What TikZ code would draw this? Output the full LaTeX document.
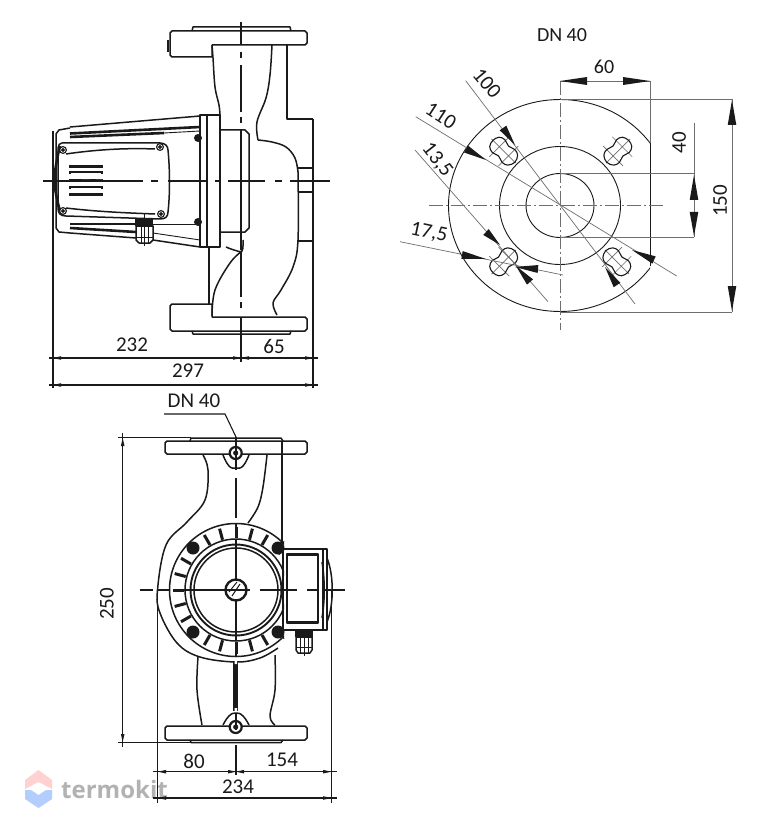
\documentclass[tikz,border=0pt]{standalone}
\usepackage{fontspec}
\setmainfont{Carlito}
\newfontfamily\wmfont{Open Sans}
\usetikzlibrary{calc}
\definecolor{ink}{HTML}{1A1A1A}
\definecolor{thin}{HTML}{6E6E6E}
\tikzset{
  x=1pt,y=-1pt,
  dimtext/.style={font=\fontsize{21}{21}\selectfont,text=ink,inner sep=0pt},
  main/.style={draw=ink,line width=1.5pt,line join=round},
  heavy/.style={draw=ink,line width=2.6pt},
  fine/.style={draw=ink,line width=0.9pt},
  hair/.style={draw=thin,line width=0.7pt},
  dashdot/.style={draw=thin,line width=0.7pt,dash pattern=on 14pt off 3pt on 2pt off 3pt},
  dimline/.style={draw=ink,line width=1.1pt},
  centre/.style={draw=ink,line width=1.6pt},
}
\newcommand\wdg[3]{\fill[ink] ($(#1)!#3!90:(#2)$) -- (#2) -- ($(#1)!#3!-90:(#2)$) -- cycle;}
\newcommand\smalltips[2]{\wdg{#1}{#2}{1.8pt}}
\begin{document}
\begin{tikzpicture}
\useasboundingbox (0,0) rectangle (776,834);
\fill[white] (0,0) rectangle (776,834);
% ---------- watermark ----------
\fill[pink!55!white!95!red] (25,780) -- (38.5,770) -- (52,780) -- (52,789) -- (38.5,782) -- (25,789) -- cycle;
\fill[blue!22!white!90!cyan] (25,790) -- (31,790) -- (38.5,795) -- (46,790) -- (52,790) -- (52,799) -- (38.5,808) -- (25,799) -- cycle;
\node[inner sep=0pt,anchor=west,text=black!30,font=\wmfont\bfseries\fontsize{24}{24}\selectfont] (wm) at (61,789) {termokit};

% ---------- side view: flanges ----------
\draw[main] (192,31) -- (193,27) -- (290,27) -- (291,31);
\draw[main] (172,31) -- (305,31) -- (307,33) -- (307,43) -- (305,45) -- (212,45) -- (212,57) -- (172,57) -- (170,55) -- (170,33) -- cycle;
\draw[heavy] (168,40) -- (168,52);
\draw[main] (192,331) -- (193,334) -- (290,334) -- (291,331);
\draw[main] (172,331) -- (305,331) -- (307,329) -- (307,319) -- (305,317) -- (212,317) -- (212,304) -- (172,304) -- (170,306) -- (170,329) -- cycle;
% neck and body
\draw[main] plot[smooth,tension=0.6] coordinates {(212,45)(213,58)(215,87)(219,105)(220,115)};
\draw[main] plot[smooth,tension=0.6] coordinates {(272,45)(270,75)(266,98)(257,122)(258,140)};
\draw[main] plot[smooth,tension=0.6] coordinates {(258,140)(272,142)(286,147)(295,158)(298,172)};
\draw[main] plot[smooth,tension=0.6] coordinates {(298,172)(298,240)(293,267)(281,290)(273,303)(277,315)};
\draw[main] (287,45) -- (287,119) -- (313,119);
\draw[main] (298,168) -- (313,168) (298,192) -- (313,192) (298,241) -- (313,241);
\draw[main] (209,247) -- (209,304);
\draw[main] plot[smooth,tension=0.6] coordinates {(212,316)(215,290)(230,263)(242,251)};
\draw[main] plot[smooth,tension=0.6] coordinates {(226,247)(234,250)(242,251)(243,240)};
% motor flange and housing
\draw[main] (200,115) rectangle (220,247);
\draw[main] (207,115) -- (207,247);
\draw[main] (220,130) -- (245,130) -- (249,134) -- (249,228) -- (245,232) -- (220,232);
% motor fins
\draw[main] (70,127) -- (200,116);
\draw[heavy] (70,133.5) -- (200,127);
\draw[heavy] (70,137) -- (164,133);
\draw[fine] (164,133) -- (200,131);
\draw[heavy] (70,224) -- (136,224);
\draw[fine] (136,224) -- (200,224);
\draw[heavy] (70,228) -- (136,232);
\draw[fine] (153,233) -- (200,240);
\draw[main] (70,233) -- (136,238) (153,240) -- (200,247);
\draw[main] (70,128) -- (59,130) -- (56,134) -- (56,228) -- (59,232) -- (70,233);
\draw[heavy] plot[smooth,tension=0.7] coordinates {(60,146)(54.5,180)(60,211)};
% terminal box
\draw[main] (62,143) -- (160,143) .. controls (165,143) and (168,146) .. (168,150) .. controls (170,170) and (170,195) .. (168,212) .. controls (168,217) and (165,219) .. (160,219) -- (66,216) .. controls (60,216) and (58,213) .. (58,208) -- (58,148) .. controls (58,145) and (60,143) .. (62,143);
\draw[main] (66,154) .. controls (100,149) and (130,148) .. (155,149);
\draw[main] (66,208) .. controls (100,212) and (130,213) .. (155,214);
\foreach \p/\q in {63/150,160/147,63/211,161/214,198/138,198/222}{\fill[ink] (\p,\q) circle (4);}
\foreach \p/\q in {63/150,160/147,63/211,161/214}{\draw[white,line width=.6pt] (\p,\q) circle (2.3);}
\foreach \q in {167,181,195}{\draw[ink,line width=3pt] (69,\q) -- (103,\q);}
\foreach \q in {173,188}{\draw[ink,line width=3pt] (69,\q) -- (103,\q);\draw[white,line width=.8pt] (71,\q) -- (101,\q);}
\fill[white] (82,180) rectangle (90,182) (96,180) rectangle (102,182);
% cable gland side
\fill[ink] (135,218) rectangle (153,226);
\draw[main,fill=white] (136,226) -- (153,226) -- (153,240) -- (150,243) -- (139,243) -- (136,240) -- cycle;
\draw[fine] (141,226) -- (141,243) (148,226) -- (148,243) (136,237) -- (153,237);
\draw[fine] (144,213) -- (144,246);
% centre lines of side view
\foreach \a/\b in {43/143,151/158,168/207,215/220,228/265,275/282,290/330}{\draw[centre] (\a,181) -- (\b,181);}
\foreach \a/\b in {22/45,52/58,65/112,117/123,130/250,252/297,302/308,317/358}{\draw[centre] (241,\a) -- (241,\b);}
% dims of side view
\draw[dimline] (313,119) -- (313,388);
\draw[main] (53,131) -- (53,388);
\draw[main] (241,340) -- (241,362);
\draw[dimline] (49,358) -- (318,358);
\draw[dimline] (49,385) -- (318,385);
\foreach \a/\b in {61/53,233/241,249/241,305/313}{\smalltips{\a,358}{\b,358}}
\foreach \a/\b in {61/53,305/313}{\smalltips{\a,385}{\b,385}}
\node[dimtext] (t232) at (132,345) {232};
\node[dimtext] (t65) at (274,346) {65};
\node[dimtext] (t297) at (188,371) {297};

% ---------- flange view ----------
\node[dimtext,font=\fontsize{20}{20}\selectfont] (dn1) at (562,35) {DN 40};
\begin{scope}
\clip (420,90) rectangle (650,320);
\draw[fine] (560,205.5) ellipse [x radius=111.5,y radius=106];
\end{scope}
\draw[fine] (650,143) -- (650,266);
\draw[fine] (560,205.5) ellipse [x radius=60.5,y radius=59];
\draw[fine] (560,205.5) ellipse [x radius=34,y radius=32];
\foreach \cx/\cy/\rr in {503.5/151/135,618/151/45,503.5/262/225,617/262/-45}{
  \begin{scope}[shift={(\cx,\cy)},rotate=\rr]
  \draw[hair] (-17,0) -- (17,0) (-7,-14) -- (-7,14) (6,-14) -- (6,14);
  \draw[main,line width=1.1pt] plot[smooth cycle,tension=0.6] coordinates {(15,0)(13,6.5)(7,9)(0,7)(-7,9)(-13,7)(-16,0)(-13,-7)(-7,-9)(0,-7)(7,-9)(13,-6.5)};
  \end{scope}
}
% leaders
\draw[hair] (465.7,80.7) -- (635,304);
\draw[hair] (415.7,116.7) -- (676.7,276);
\draw[hair] (415,150) -- (548,301.7);
\draw[hair] (400,241.7) -- (563,275);
\draw[dashdot] (429,205.7) -- (663,205.7);
\draw[dashdot] (560,81) -- (560,330);
\draw[hair] (560,99) -- (732,99) (560,312) -- (732,312);
\draw[hair] (650,81) -- (650,143);
\draw[hair] (560,81) -- (650,81);
\draw[hair] (732,99) -- (732,312);
\draw[hair] (560,173) -- (694,173) (560,237) -- (694,237) (694,123) -- (694,237);
% arrow wedges
\wdg{587,81}{560,81}{4pt} \wdg{623,81}{650,81}{4pt}
\wdg{732,125}{732,100}{4.3pt} \wdg{732,286}{732,311}{4.3pt}
\wdg{694,200}{694,175}{4.3pt} \wdg{694,212}{694,236}{4.3pt}
\wdg{503,128}{515,145}{4pt}
\wdg{617,285}{605,267}{4pt}
\wdg{466,149}{486,160}{4pt}
\wdg{654,260}{632,250}{4pt}
\wdg{486,232}{500,245}{4pt}
\wdg{530,282}{516,266}{4pt}
\wdg{462,255}{486,259}{4pt}
\wdg{538,269}{515,267}{4pt}
% labels
\node[dimtext,font=\fontsize{20}{20}\selectfont] (t60) at (604,67) {60};
\node[dimtext,rotate=-50] (t100) at (487,83) {100};
\node[dimtext,rotate=-33] (t110) at (441,116) {110};
\node[dimtext,rotate=-52] (t135) at (437,160) {13,5};
\node[dimtext,rotate=-12] (t175) at (429,233) {17,5};
\node[dimtext,rotate=90] (t40) at (679,143) {40};
\node[dimtext,rotate=90] (t150) at (720,201) {150};

% ---------- front view ----------
\draw[main] (190,441) -- (191,438) -- (281,438) -- (283,441);
\draw[main] (167,441) -- (305,441) -- (307,443) -- (307,452) -- (305,454) -- (167,454) -- (165,452) -- (165,443) -- cycle;
\draw[main] (190,740) -- (191,742.5) -- (281,742.5) -- (283,740);
\draw[main] (167,726) -- (305,726) -- (307,728) -- (307,738) -- (305,740) -- (167,740) -- (165,738) -- (165,728) -- cycle;
\draw[main] plot[smooth,tension=0.6] coordinates {(203,455)(208,470)(205,500)(187,522)(166,545)(157.5,590)(160,613)(177,643)(200,657)(236,662)(260,658)(278,648)};
\draw[main] plot[smooth,tension=0.6] coordinates {(267,455)(263,487)(258,507)(248,523)};
\draw[main] (282,441) -- (282,549);
\draw[main] plot[smooth,tension=0.6] coordinates {(198,657)(197,690)(202,725)};
\draw[main] plot[smooth,tension=0.6] coordinates {(275,655)(275,690)(270,716)(275,725)};
% bolts seats
\draw[main] plot[smooth,tension=0.8] coordinates {(223,455)(229,466)(236,468)(243,466)(249,455)};
\draw[main] plot[smooth,tension=0.8] coordinates {(223,725)(229,716)(236,713)(243,716)(249,725)};
\foreach \q in {453,727}{\draw[ink,line width=2.2pt,fill=white] (235.7,\q) circle (6);\fill[ink] (235.7,\q) circle (2.6);}
% centre web
\draw[ink,line width=5pt] (235.7,662) -- (235.7,711);
\fill[white] (234.5,660) rectangle (237,664) (234.5,708) rectangle (237,711);
% rings
\begin{scope}
\clip (150,510) rectangle (284,680);
\draw[main] (236,590) circle (66.5);
\draw[main] (236,590) circle (51);
\draw[main,line width=1.9pt] (236,590) circle (45.5);
\draw[main] (236,590) circle (42);
\end{scope}
\foreach \a in {60,75,90,105,120,150,165,180,195,210,240,255,270,285,300}{
  \draw[ink,line width=3pt] ([shift={(\a:52)}]236,590) -- ([shift={(\a:63.5)}]236,590);
}
\foreach \p/\q in {193/548,278/548,193/632,278/632}{\fill[ink] (\p,\q) circle (6.5);}
\draw[fine] (284,541) -- (279,555) (284,639) -- (279,626);
\draw[ink,line width=2.4pt,fill=white] (236,590) circle (10.5);
\draw[ink,line width=1pt] (232,596) -- (240,584) (229,592) -- (237,582);
% terminal box front
\draw[main] (283,549) rectangle (327,630);
\draw[main] (287,554) rectangle (318,623);
\draw[heavy] (287,555) -- (318,555) (287,622) -- (318,622);
\draw[main] (323,549) -- (323,630);
\draw[main] (327,558) .. controls (334,575) and (334,605) .. (327,622);
\draw[main] (322,562) .. controls (325,580) and (325,600) .. (322,618);
% gland front
\fill[ink] (295,630) rectangle (313,637);
\draw[main,fill=white] (296,637) -- (312,637) -- (312,650) -- (310,653) -- (298,653) -- (296,650) -- cycle;
\draw[fine] (300,637) -- (300,653) (304,637) -- (304,656) (308,637) -- (308,653) (296,647) -- (312,647);
% centre lines
\foreach \a/\b in {140/153,158/170,173/250,260/297,307/317,323/345}{\draw[centre] (\a,590) -- (\b,590);}
\foreach \a/\b in {437/470,478/518,523/532,540/580,600/640,646/656,713/730,745/775}{\draw[centre] (235.7,\a) -- (235.7,\b);}
% dims
\draw[dimline] (122.7,433) -- (122.7,747);
\draw[dimline] (118,437.7) -- (191,437.7) (118,742.5) -- (191,742.5);
\smalltips{122.7,446}{122.7,438}
\smalltips{122.7,734}{122.7,742}
\draw[dimline] (157.7,590) -- (157.7,803);
\draw[dimline] (331.7,590) -- (331.7,803);
\draw[dimline] (153,771.7) -- (337,771.7);
\draw[dimline] (153,798) -- (337,798);
\foreach \a/\b in {166/158,228/236,244/236,323/331.5}{\smalltips{\a,771.7}{\b,771.7}}
\foreach \a/\b in {166/158,323/331.5}{\smalltips{\a,798}{\b,798}}
\draw[dimline] (164,414) -- (225,414) -- (236,437);
\node[dimtext] (dn2) at (194,401) {DN 40};
\node[dimtext,rotate=90] (t250) at (107,604) {250};
\node[dimtext] (t80) at (194,761) {80};
\node[dimtext] (t154) at (282,760) {154};
\node[dimtext] (t234) at (238,787) {234};
\end{tikzpicture}
\end{document}
